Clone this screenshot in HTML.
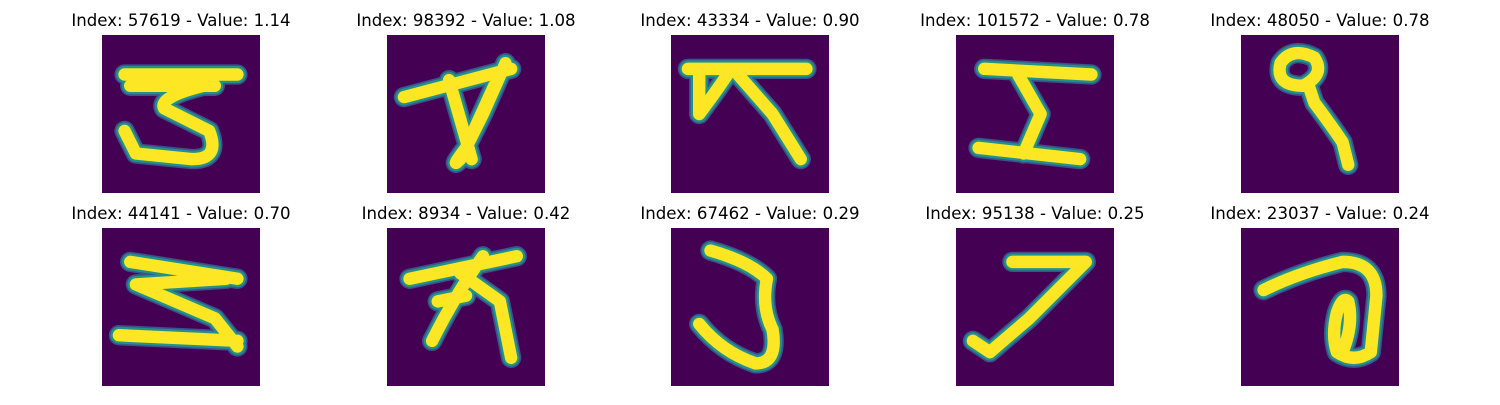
<!DOCTYPE html>
<html><head><meta charset="utf-8"><style>
html,body{margin:0;padding:0;background:#fff;}
body{width:1500px;height:400px;overflow:hidden;font-family:"Liberation Sans",sans-serif;}
svg text{font-family:"DejaVu Sans","Liberation Sans",sans-serif;font-size:16.6px;fill:#000;}
</style></head><body>
<svg id="chart" width="1500" height="400" viewBox="0 0 1500 400" xmlns="http://www.w3.org/2000/svg">
</svg>
<script>
const indices=[57619,98392,43334,101572,48050,44141,8934,67462,95138,23037];
const values=[1.14,1.08,0.90,0.78,0.78,0.70,0.42,0.29,0.25,0.24];
const strokes=[
"M4,7 L24,7 M5,9 L20,9 M18,9 Q10,11 11,13 L19,17 Q21,22 16,22 L6,21 L4,17",
"M3,11 L22,6 M21,5 L17,14 L13,22 Q11,24 14,20 L19,9 M11,8 L15,22",
"M3,6 L24,6 M5,6 L5,14 Q8,10 10,7 M11,6 L18,14 L23,22",
"M5,6 L24,7 M11,7 L15,14 L12,21 M4,20 L22,22",
"M11,9 Q6,9 7,5 Q9,2 13,4 Q15,7 11,9 M12,9 L13,12 Q16,16 18,19 L19,23",
"M5,6 L24,9 M22,9 L6,10 L20,16 L24,21 M3,19 L24,20",
"M4,9 L23,5 M17,5 Q12,12 8,20 M13,8 L20,13 L22,23 M9,13 L14,12",
"M7,4 Q14,6 17,9 Q16,14 18,18 Q19,24 15,24 Q9,22 5,17",
"M10,6 L23,6 M23,6 Q17,12 13,16 L6,22 M6,22 L3,20",
"M4,11 Q10,8 18,6 Q24,6 24,12 L23,22 Q20,24 17,22 Q16,19 17,15 Q18,12 19,13 Q20,17 18,22"
];
const svg=document.getElementById('chart');
const NS='http://www.w3.org/2000/svg';
const colX=[102,387,671,956,1241], rowY=[35,228], S=158;
for(let i=0;i<indices.length;i++){
  const x=colX[i%5], y=rowY[Math.floor(i/5)];
  const g=document.createElementNS(NS,'g');
  
  
  const t=document.createElementNS(NS,'text');
  
  
  t.setAttribute('x',x+S/2);t.setAttribute('y',y-9);t.setAttribute('text-anchor','middle');
  t.textContent='Index: '+indices[i]+' - Value: '+values[i].toFixed(2);
  g.appendChild(t);
  const r=document.createElementNS(NS,'rect');
  
  
  r.setAttribute('x',x);r.setAttribute('y',y);r.setAttribute('width',S);r.setAttribute('height',S);r.setAttribute('fill','#440154');
  g.appendChild(r);
  const inner=document.createElementNS(NS,'g');
  inner.setAttribute('transform','translate('+x+','+y+') scale('+(S/28)+')');
  [['#3b528b',3.6],['#21918c',3.0],['#fde725',2.2]].forEach(([c,w])=>{
    const p=document.createElementNS(NS,'path');
    
    
    p.setAttribute('d',strokes[i]);p.setAttribute('fill','none');p.setAttribute('stroke',c);
    p.setAttribute('stroke-width',w);p.setAttribute('stroke-linecap','round');p.setAttribute('stroke-linejoin','round');
    inner.appendChild(p);
  });
  g.appendChild(inner);
  svg.appendChild(g);
}
</script>
</body></html>
